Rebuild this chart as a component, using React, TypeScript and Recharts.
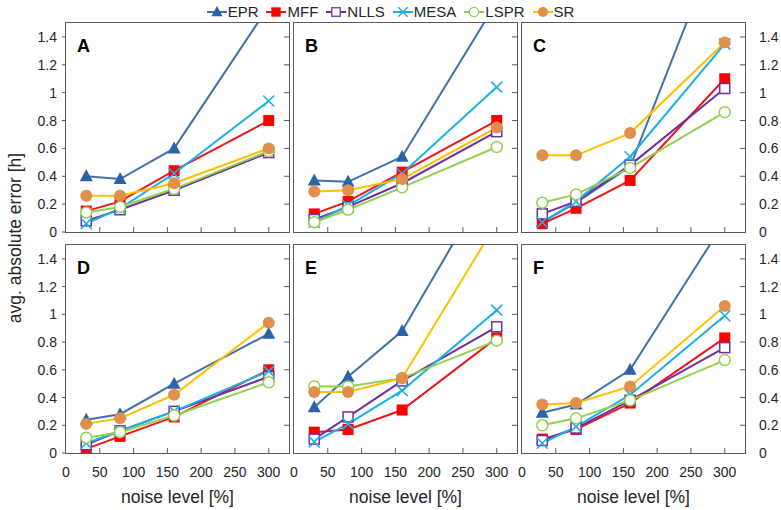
import { LineChart, Line, XAxis, YAxis } from 'recharts';

const noiseLevels = [30, 80, 160, 300];
const panelLabels = ['A', 'B', 'C', 'D', 'E', 'F'];
const xTicks = [0, 50, 100, 150, 200, 250, 300];
const yTicks = [0, 0.2, 0.4, 0.6, 0.8, 1, 1.2, 1.4];

// one row per panel (A..F), one value per noise level
const epr = [
    [0.40, 0.38, 0.60, 1.62],
    [0.37, 0.36, 0.54, 1.65],
    [0.07, 0.21, 0.47, 2.2],
    [0.24, 0.28, 0.50, 0.86],
    [0.33, 0.55, 0.88, 2.05],
    [0.29, 0.35, 0.60, 1.67]
];
const mff = [
    [0.15, 0.22, 0.44, 0.80],
    [0.13, 0.22, 0.43, 0.80],
    [0.06, 0.17, 0.37, 1.10],
    [0.03, 0.12, 0.26, 0.60],
    [0.15, 0.17, 0.31, 0.83],
    [0.10, 0.17, 0.36, 0.83]
];
const nlls = [
    [0.08, 0.16, 0.30, 0.57],
    [0.09, 0.18, 0.35, 0.72],
    [0.13, 0.22, 0.48, 1.03],
    [0.06, 0.16, 0.30, 0.55],
    [0.10, 0.26, 0.52, 0.91],
    [0.09, 0.18, 0.38, 0.76]
];
const mesa = [
    [0.06, 0.17, 0.42, 0.94],
    [0.07, 0.19, 0.42, 1.04],
    [0.07, 0.22, 0.54, 1.35],
    [0.07, 0.16, 0.30, 0.59],
    [0.08, 0.21, 0.45, 1.03],
    [0.07, 0.19, 0.42, 0.99]
];
const lspr = [
    [0.14, 0.18, 0.31, 0.58],
    [0.07, 0.16, 0.32, 0.61],
    [0.21, 0.27, 0.46, 0.86],
    [0.11, 0.15, 0.27, 0.51],
    [0.48, 0.48, 0.54, 0.81],
    [0.20, 0.25, 0.38, 0.67]
];
const sr = [
    [0.26, 0.26, 0.35, 0.60],
    [0.29, 0.30, 0.38, 0.75],
    [0.55, 0.55, 0.71, 1.36],
    [0.21, 0.25, 0.42, 0.94],
    [0.44, 0.44, 0.54, 1.66],
    [0.35, 0.36, 0.48, 1.06]
];

const FONT = '"Liberation Sans", Arial, sans-serif';
const AXIS = '#595959';

type Shape = 'triangle' | 'square' | 'openSquare' | 'cross' | 'openCircle' | 'circle';

const series: { key: string; values: number[][]; line: string; mark: string; shape: Shape }[] = [
    { key: 'EPR', values: epr, line: '#4271A8', mark: '#2C63A6', shape: 'triangle' },
    { key: 'MFF', values: mff, line: '#F0141C', mark: '#FF0000', shape: 'square' },
    { key: 'NLLS', values: nlls, line: '#7030A0', mark: '#7030A0', shape: 'openSquare' },
    { key: 'MESA', values: mesa, line: '#1CB0E8', mark: '#1CB0E8', shape: 'cross' },
    { key: 'LSPR', values: lspr, line: '#92D050', mark: '#92D050', shape: 'openCircle' },
    { key: 'SR', values: sr, line: '#FFC000', mark: '#E0904A', shape: 'circle' }
];

function Marker({ cx, cy, shape, color }: { cx: number; cy: number; shape: Shape; color: string }) {
    switch (shape) {
        case 'triangle':
            return <polygon points={`${cx},${cy - 7} ${cx - 6.5},${cy + 5} ${cx + 6.5},${cy + 5}`} fill={color} />;
        case 'square':
            return <rect x={cx - 5.5} y={cy - 5.5} width={11} height={11} fill={color} />;
        case 'openSquare':
            return <rect x={cx - 5} y={cy - 5} width={10} height={10} fill="#fff" stroke={color} strokeWidth={1.5} />;
        case 'cross':
            return (
                <g stroke={color} strokeWidth={1.6}>
                    <line x1={cx - 5.5} y1={cy - 5.5} x2={cx + 5.5} y2={cy + 5.5} />
                    <line x1={cx - 5.5} y1={cy + 5.5} x2={cx + 5.5} y2={cy - 5.5} />
                </g>
            );
        case 'openCircle':
            return <circle cx={cx} cy={cy} r={5.5} fill="#fff" stroke={color} strokeWidth={1.5} />;
        default:
            return <circle cx={cx} cy={cy} r={6} fill={color} />;
    }
}

const makeDot = (shape: Shape, color: string) => (props: any) => {
    const { cx, cy, index } = props;
    if (cx == null || cy == null) return <g key={`d-${index}`} />;
    return (
        <g key={`d-${index}`}>
            <Marker cx={cx} cy={cy} shape={shape} color={color} />
        </g>
    );
};

const colLeft = [66, 294, 522];
const rowTop = [23, 245];
const rowHeight = [209, 208];
const PLOT_W = 223;
const L = 60;
const R = 40;
const T = 4;
const B = 40;

function Panel({ index }: { index: number }) {
    const col = index % 3;
    const row = Math.floor(index / 3);
    const left = colLeft[col];
    const top = rowTop[row];
    const h = rowHeight[row];
    const data = noiseLevels.map((n, j) => {
        const d: any = { noise: n };
        series.forEach(s => {
            d[s.key] = s.values[index][j];
        });
        return d;
    });
    const showXLabels = row === 1;
    const showLeft = col === 0;
    const showRight = col === 2;

    const xTick = (p: any) => (
        <g>
            {p.payload.value !== 0 && (
                <line x1={p.x} y1={p.y} x2={p.x} y2={p.y - 5} stroke={AXIS} />
            )}
            {showXLabels && (
                <text x={p.x} y={p.y + 24} textAnchor="middle" fontSize={14} fill="#262626" fontFamily={FONT}>
                    {p.payload.value}
                </text>
            )}
        </g>
    );
    const leftTick = (p: any) =>
        showLeft ? (
            <g>
                <line x1={p.x - 4} y1={p.y} x2={p.x} y2={p.y} stroke={AXIS} />
                <text x={p.x - 9} y={p.y + 5} textAnchor="end" fontSize={14} fill="#262626" fontFamily={FONT}>
                    {p.payload.value}
                </text>
            </g>
        ) : (
            <g />
        );
    const rightTick = (p: any) => (
        <g>
            {p.payload.value !== 0 && <line x1={p.x - 5} y1={p.y} x2={p.x} y2={p.y} stroke={AXIS} />}
            {showRight && (
                <text x={p.x + 14} y={p.y + 5} textAnchor="start" fontSize={14} fill="#262626" fontFamily={FONT}>
                    {p.payload.value}
                </text>
            )}
        </g>
    );

    return (
        <>
            <div style={{ position: 'absolute', left: left - L, top: top - T }}>
                <LineChart
                    width={PLOT_W + L + R}
                    height={h + T + B}
                    data={data}
                    margin={{ top: T, right: 0, bottom: 0, left: 0 }}
                >
                    <XAxis
                        dataKey="noise"
                        type="number"
                        domain={[0, 330]}
                        ticks={xTicks}
                        height={B}
                        axisLine={false}
                        tickLine={false}
                        tickSize={0}
                        tickMargin={0}
                        tick={xTick}
                        interval={0}
                    />
                    <YAxis
                        yAxisId="left"
                        type="number"
                        domain={[0, 1.5]}
                        ticks={yTicks}
                        width={L}
                        allowDataOverflow
                        axisLine={false}
                        tickLine={false}
                        tickSize={0}
                        tickMargin={0}
                        tick={leftTick}
                        interval={0}
                    />
                    <YAxis
                        yAxisId="right"
                        orientation="right"
                        type="number"
                        domain={[0, 1.5]}
                        ticks={yTicks}
                        width={R}
                        allowDataOverflow
                        axisLine={false}
                        tickLine={false}
                        tickSize={0}
                        tickMargin={0}
                        tick={rightTick}
                        interval={0}
                    />
                    {series.map(s => (
                        <Line
                            key={s.key}
                            yAxisId="left"
                            type="linear"
                            dataKey={s.key}
                            stroke={s.line}
                            strokeWidth={2}
                            dot={makeDot(s.shape, s.mark)}
                            activeDot={false}
                            isAnimationActive={false}
                        />
                    ))}
                </LineChart>
            </div>
            <div
                style={{
                    position: 'absolute',
                    left: left - 1,
                    top: top - 1,
                    width: PLOT_W,
                    height: h,
                    border: `1.3px solid ${AXIS}`,
                    pointerEvents: 'none'
                }}
            />
            <div
                style={{
                    position: 'absolute',
                    left: left + 11,
                    top: top + 14,
                    fontSize: 18,
                    lineHeight: '18px',
                    fontWeight: 'bold',
                    fontFamily: FONT,
                    color: '#000'
                }}
            >
                {panelLabels[index]}
            </div>
            {showXLabels && (
                <div
                    style={{
                        position: 'absolute',
                        left: left,
                        width: PLOT_W,
                        top: 487,
                        textAlign: 'center',
                        fontSize: 17.5,
                        lineHeight: '20px',
                        fontFamily: FONT,
                        color: '#262626'
                    }}
                >
                    noise level [%]
                </div>
            )}
        </>
    );
}

function LegendBar() {
    return (
        <div
            style={{
                position: 'absolute',
                left: 0,
                top: 3,
                width: 781,
                display: 'flex',
                justifyContent: 'center',
                gap: 8,
                fontFamily: FONT,
                fontSize: 15,
                lineHeight: '18px',
                color: '#262626'
            }}
        >
            {series.map(s => (
                <div key={s.key} style={{ display: 'flex', alignItems: 'center' }}>
                    <svg width={20} height={16}>
                        <line x1={0} y1={8} x2={20} y2={8} stroke={s.line} strokeWidth={2} />
                        <g transform="translate(10 8) scale(0.85) translate(-10 -8)">
                            <Marker cx={10} cy={8} shape={s.shape} color={s.mark} />
                        </g>
                    </svg>
                    <span style={{ marginLeft: 1 }}>{s.key}</span>
                </div>
            ))}
        </div>
    );
}

export default function App() {
    return (
        <div
            style={{
                position: 'absolute',
                left: 0,
                top: 0,
                width: 781,
                height: 510,
                background: '#fff',
                fontFamily: FONT,
                overflow: 'hidden'
            }}
        >
            <LegendBar />
            {panelLabels.map((_, i) => (
                <Panel key={i} index={i} />
            ))}
            <div
                style={{
                    position: 'absolute',
                    left: 15 - 150,
                    top: 238 - 10,
                    width: 300,
                    height: 20,
                    lineHeight: '20px',
                    textAlign: 'center',
                    fontSize: 17.5,
                    fontFamily: FONT,
                    color: '#262626',
                    transform: 'rotate(-90deg)'
                }}
            >
                avg. absolute error [h]
            </div>
        </div>
    );
}
